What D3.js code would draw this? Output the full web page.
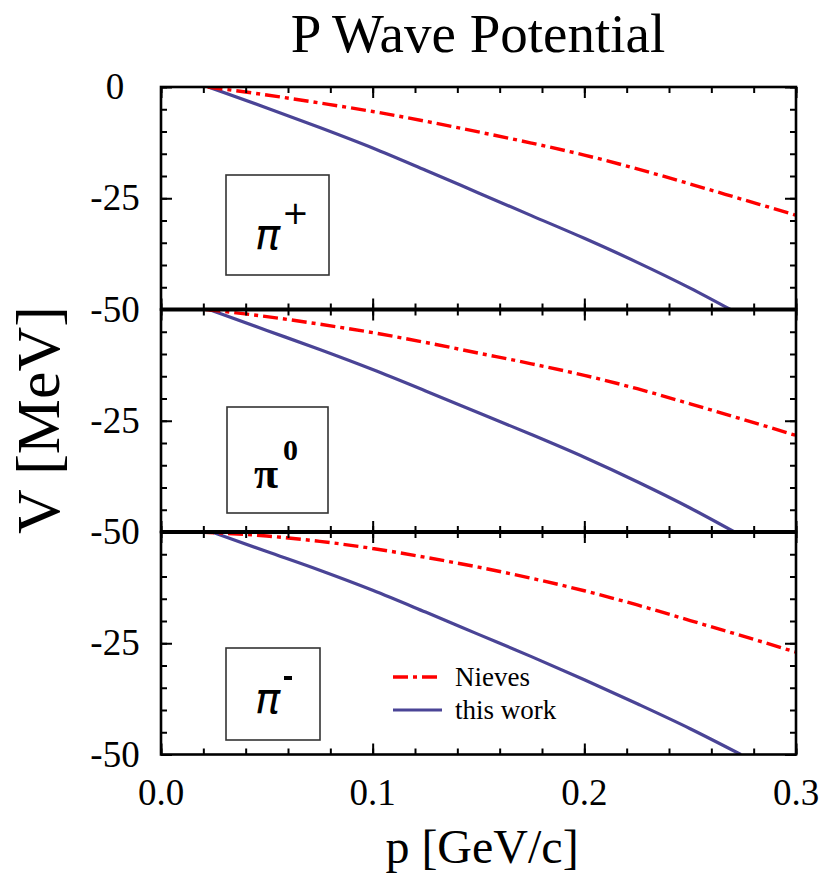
<!DOCTYPE html>
<html>
<head>
<meta charset="utf-8">
<script src="https://cdn.jsdelivr.net/npm/d3@7"></script>
<style>
  html, body { margin: 0; padding: 0; background: #ffffff; }
  svg { display: block; }
</style>
</head>
<body>
<svg id="chart" width="829" height="873"></svg>
<script>
// ---------------- DATA ----------------
const title = "P Wave Potential";
const xTitle = "p [GeV/c]";
const yTitle = "V [MeV]";
const seriesNames = ["Nieves", "this work"];
const panelNames = ["π+", "π0", "π-"];

const xTicks = [0.0, 0.1, 0.2, 0.3];
const xTickLabels = ["0.0", "0.1", "0.2", "0.3"];
// y tick values and labels for each panel (top, middle, bottom)
const yTickValuesTop = [0, -25];
const yTickLabelsTop = ["0", "-25"];
const yTickValuesMid = [0, -25];
const yTickLabelsMid = ["-50", "-25"];
const yTickValuesBot = [0, -25, -50];
const yTickLabelsBot = ["-50", "-25", "-50"];

// pi+ panel
const pPlusNieves = [0.022, 0.05, 0.075, 0.1, 0.125, 0.15, 0.175, 0.2, 0.225, 0.25, 0.275, 0.3];
const vPlusNieves = [0, -1.8, -3.6, -5.5, -7.7, -10.1, -12.6, -15.3, -18.4, -21.8, -25.3, -28.8];
const pPlusThis = [0.0224, 0.05, 0.075, 0.1, 0.125, 0.15, 0.175, 0.2, 0.225, 0.25, 0.269];
const vPlusThis = [0, -4.7, -9.1, -13.7, -18.7, -23.8, -28.9, -34.0, -39.4, -45.2, -50];

// pi0 panel
const pZeroNieves = [0.021, 0.05, 0.075, 0.1, 0.125, 0.15, 0.175, 0.2, 0.225, 0.25, 0.275, 0.3];
const vZeroNieves = [0, -1.6, -3.3, -5.2, -7.4, -9.8, -12.2, -14.8, -17.8, -21.2, -24.7, -28.3];
const pZeroThis = [0.0227, 0.05, 0.075, 0.1, 0.125, 0.15, 0.175, 0.2, 0.225, 0.25, 0.271];
const vZeroThis = [0, -4.7, -9.0, -13.5, -18.3, -23.2, -28.1, -33.2, -38.7, -44.6, -50];

// pi- panel
const pMinusNieves = [0.018, 0.05, 0.075, 0.1, 0.125, 0.15, 0.175, 0.2, 0.225, 0.25, 0.275, 0.3];
const vMinusNieves = [0, -0.9, -2.1, -3.7, -5.7, -7.9, -10.4, -13.2, -16.4, -19.9, -23.4, -27.0];
const pMinusThis = [0.024, 0.05, 0.075, 0.1, 0.125, 0.15, 0.175, 0.2, 0.225, 0.25, 0.274];
const vMinusThis = [0, -4.4, -8.6, -13.1, -18.0, -23.0, -28.0, -33.2, -38.6, -44.2, -50];

// ---------------- LAYOUT ----------------
const svg = d3.select("#chart");
const left = 161, right = 796;
const panelTop = 87, panelH = 222.5;
const colRed = "#ff0000", colBlue = "#4a4496";
const serif = "'Liberation Serif', 'Times New Roman', serif";
const sans = "'DejaVu Sans', sans-serif";

const x = d3.scaleLinear().domain([0, 0.3]).range([left, right]);

const zip = (ps, vs) => ps.map((p, i) => ({p: p, v: vs[i]}));

const panels = [
  {nieves: zip(pPlusNieves, vPlusNieves), mine: zip(pPlusThis, vPlusThis),
   tv: yTickValuesTop, tl: yTickLabelsTop, box: [226, 175, 103, 100]},
  {nieves: zip(pZeroNieves, vZeroNieves), mine: zip(pZeroThis, vZeroThis),
   tv: yTickValuesMid, tl: yTickLabelsMid, box: [227, 407, 101, 106]},
  {nieves: zip(pMinusNieves, vMinusNieves), mine: zip(pMinusThis, vMinusThis),
   tv: yTickValuesBot, tl: yTickLabelsBot, box: [226, 648, 94, 92]}
];

const defs = svg.append("defs");

panels.forEach((pan, i) => {
  const top = panelTop + i * panelH;
  const bot = top + panelH;
  const y = d3.scaleLinear().domain([-50, 0]).range([bot, top]);
  const g = svg.append("g");

  defs.append("clipPath").attr("id", "clip" + i)
    .append("rect").attr("x", left).attr("y", top).attr("width", right - left).attr("height", panelH);

  // label box
  g.append("rect")
    .attr("x", pan.box[0]).attr("y", pan.box[1])
    .attr("width", pan.box[2]).attr("height", pan.box[3])
    .attr("fill", "#fff").attr("stroke", "#333").attr("stroke-width", 1.6);

  const line = d3.line().x(d => x(d.p)).y(d => y(d.v)).curve(d3.curveMonotoneX);
  const cg = g.append("g").attr("clip-path", "url(#clip" + i + ")");
  cg.append("path").datum(pan.mine)
    .attr("d", line).attr("fill", "none")
    .attr("stroke", colBlue).attr("stroke-width", 3.2);
  cg.append("path").datum(pan.nieves)
    .attr("d", line).attr("fill", "none")
    .attr("stroke", colRed).attr("stroke-width", 3.4)
    .attr("stroke-dasharray", "15,5,4,5");

  // ticks (inward) on all four sides
  const minorX = d3.range(0, 0.3001, 0.02);
  const minorY = d3.range(-50, 0.001, 5);
  const ax = (axis, tr) => {
    const a = g.append("g").attr("transform", tr).call(axis);
    a.select(".domain").remove();
    a.selectAll("line").attr("stroke", "#000").attr("stroke-width", 2);
    a.selectAll("text").remove();
  };
  ax(d3.axisBottom(x).tickValues(minorX).tickSize(-6), `translate(0,${bot})`);
  ax(d3.axisBottom(x).tickValues(xTicks).tickSize(-11), `translate(0,${bot})`);
  ax(d3.axisTop(x).tickValues(minorX).tickSize(-6), `translate(0,${top})`);
  ax(d3.axisTop(x).tickValues(xTicks).tickSize(-11), `translate(0,${top})`);
  ax(d3.axisLeft(y).tickValues(minorY).tickSize(-6), `translate(${left},0)`);
  ax(d3.axisLeft(y).tickValues([-50, -25, 0]).tickSize(-11), `translate(${left},0)`);
  ax(d3.axisRight(y).tickValues(minorY).tickSize(-6), `translate(${right},0)`);
  ax(d3.axisRight(y).tickValues([-50, -25, 0]).tickSize(-11), `translate(${right},0)`);

  // frame
  g.append("rect").attr("x", left).attr("y", top)
    .attr("width", right - left).attr("height", panelH)
    .attr("fill", "none").attr("stroke", "#000").attr("stroke-width", 2.6);

  // y tick labels
  g.selectAll("text.yl").data(pan.tv).enter().append("text")
    .attr("x", 115).attr("y", d => y(d) + 12)
    .attr("text-anchor", "middle")
    .style("font-family", serif).style("font-size", "37px")
    .text((d, k) => pan.tl[k]);
});

// thicker separators between panels
[1, 2].forEach(k => {
  svg.append("line").attr("x1", left).attr("x2", right)
    .attr("y1", panelTop + k * panelH).attr("y2", panelTop + k * panelH)
    .attr("stroke", "#000").attr("stroke-width", 4);
});

// x tick labels
svg.selectAll("text.xl").data(xTicks).enter().append("text")
  .attr("x", d => x(d)).attr("y", 805)
  .attr("text-anchor", "middle")
  .style("font-family", serif).style("font-size", "37px")
  .text((d, k) => xTickLabels[k]);

// titles
svg.append("text").attr("x", 478).attr("y", 52).attr("text-anchor", "middle")
  .style("font-family", serif).style("font-size", "55px").text(title);
svg.append("text").attr("x", 482).attr("y", 863).attr("text-anchor", "middle")
  .style("font-family", serif).style("font-size", "48px").text(xTitle);
svg.append("text").attr("transform", "translate(59,420) rotate(-90)")
  .attr("text-anchor", "middle")
  .style("font-family", serif).style("font-size", "62px").text(yTitle);

// panel particle labels
const pl = svg.append("g");
// pi+
pl.append("text").attr("x", 255).attr("y", 249)
  .style("font-family", sans).style("font-size", "42px").style("font-style", "italic").text("π");
pl.append("text").attr("x", 282).attr("y", 224)
  .style("font-family", sans).style("font-size", "32px").text("+");
// pi0
pl.append("text").attr("x", 254).attr("y", 488)
  .style("font-family", serif).style("font-size", "44px").style("font-weight", "bold").text("π");
pl.append("text").attr("x", 283).attr("y", 460)
  .style("font-family", serif).style("font-size", "30px").style("font-weight", "bold").text("0");
// pi-
pl.append("text").attr("x", 255).attr("y", 713)
  .style("font-family", sans).style("font-size", "42px").style("font-style", "italic").text("π");
pl.append("rect").attr("x", 284).attr("y", 676).attr("width", 8).attr("height", 4).attr("fill", "#000");

// legend
const lg = svg.append("g");
lg.append("line").attr("x1", 393).attr("x2", 442).attr("y1", 677).attr("y2", 677)
  .attr("stroke", colRed).attr("stroke-width", 3.4).attr("stroke-dasharray", "15,5,4,5");
lg.append("text").attr("x", 455).attr("y", 686)
  .style("font-family", serif).style("font-size", "27px").text(seriesNames[0]);
lg.append("line").attr("x1", 393).attr("x2", 442).attr("y1", 710).attr("y2", 710)
  .attr("stroke", colBlue).attr("stroke-width", 3.2);
lg.append("text").attr("x", 455).attr("y", 719)
  .style("font-family", serif).style("font-size", "27px").text(seriesNames[1]);
</script>
</body>
</html>
